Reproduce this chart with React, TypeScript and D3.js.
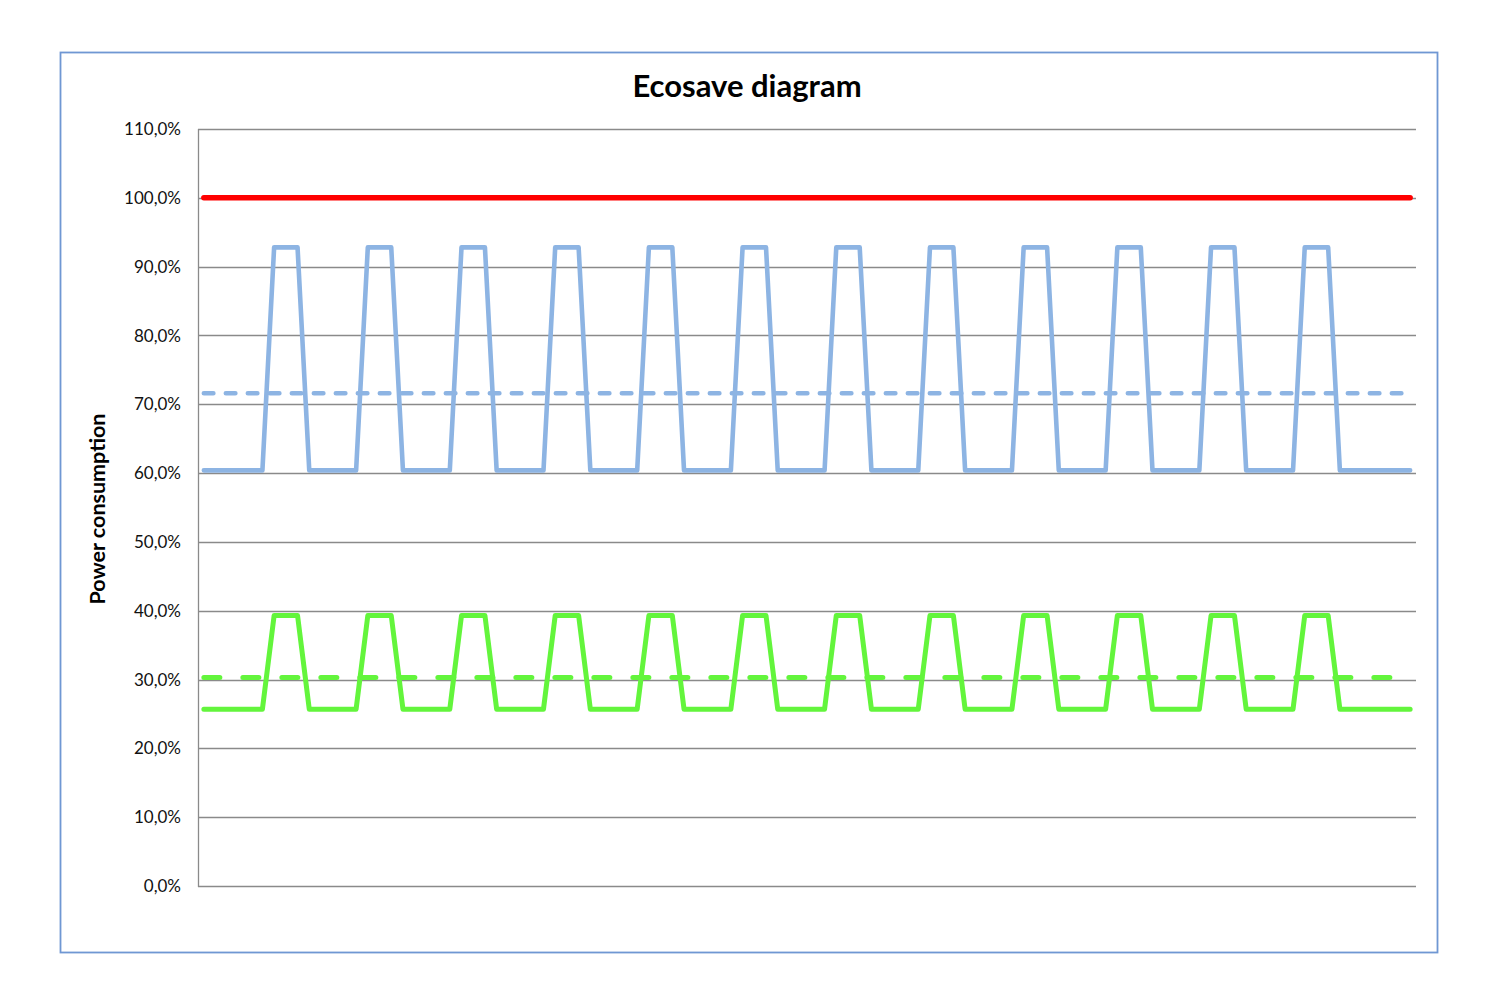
import React from "react";
import * as d3 from "d3";

// Power consumption per time slot, in percent of full load
const standardMode = [
  60.4, 60.4, 60.4, 60.4, 60.4, 60.4,
  92.8, 92.8, 92.8, 60.4, 60.4, 60.4, 60.4, 60.4,
  92.8, 92.8, 92.8, 60.4, 60.4, 60.4, 60.4, 60.4,
  92.8, 92.8, 92.8, 60.4, 60.4, 60.4, 60.4, 60.4,
  92.8, 92.8, 92.8, 60.4, 60.4, 60.4, 60.4, 60.4,
  92.8, 92.8, 92.8, 60.4, 60.4, 60.4, 60.4, 60.4,
  92.8, 92.8, 92.8, 60.4, 60.4, 60.4, 60.4, 60.4,
  92.8, 92.8, 92.8, 60.4, 60.4, 60.4, 60.4, 60.4,
  92.8, 92.8, 92.8, 60.4, 60.4, 60.4, 60.4, 60.4,
  92.8, 92.8, 92.8, 60.4, 60.4, 60.4, 60.4, 60.4,
  92.8, 92.8, 92.8, 60.4, 60.4, 60.4, 60.4, 60.4,
  92.8, 92.8, 92.8, 60.4, 60.4, 60.4, 60.4, 60.4,
  92.8, 92.8, 92.8, 60.4, 60.4, 60.4, 60.4, 60.4, 60.4, 60.4,
];

const ecosaveMode = [
  25.7, 25.7, 25.7, 25.7, 25.7, 25.7,
  39.3, 39.3, 39.3, 25.7, 25.7, 25.7, 25.7, 25.7,
  39.3, 39.3, 39.3, 25.7, 25.7, 25.7, 25.7, 25.7,
  39.3, 39.3, 39.3, 25.7, 25.7, 25.7, 25.7, 25.7,
  39.3, 39.3, 39.3, 25.7, 25.7, 25.7, 25.7, 25.7,
  39.3, 39.3, 39.3, 25.7, 25.7, 25.7, 25.7, 25.7,
  39.3, 39.3, 39.3, 25.7, 25.7, 25.7, 25.7, 25.7,
  39.3, 39.3, 39.3, 25.7, 25.7, 25.7, 25.7, 25.7,
  39.3, 39.3, 39.3, 25.7, 25.7, 25.7, 25.7, 25.7,
  39.3, 39.3, 39.3, 25.7, 25.7, 25.7, 25.7, 25.7,
  39.3, 39.3, 39.3, 25.7, 25.7, 25.7, 25.7, 25.7,
  39.3, 39.3, 39.3, 25.7, 25.7, 25.7, 25.7, 25.7,
  39.3, 39.3, 39.3, 25.7, 25.7, 25.7, 25.7, 25.7, 25.7, 25.7,
];

// Constant levels drawn across all time slots
const fullLoad = 100;
const standardAverage = 71.6;
const ecosaveAverage = 30.3;

// Time slots (the category axis has no labels)
const slots = standardMode.map((_, i) => i);

const yTicks = [0, 10, 20, 30, 40, 50, 60, 70, 80, 90, 100, 110];

const TITLE = "Ecosave diagram";
const Y_TITLE = "Power consumption";

const fmtPct = (v: number) => v.toFixed(1).replace(".", ",") + "%";

export default function App() {
  const width = 1500;
  const height = 1000;
  const left = 198;
  const right = 1416;
  const top = 129;
  const bottom = 886;

  const x = d3
    .scalePoint<number>()
    .domain(slots)
    .range([left, right])
    .padding(0.5);
  const y = d3.scaleLinear().domain([0, 110]).range([bottom, top]);

  const seriesLine = d3
    .line<number>()
    .x((_, i) => x(slots[i]) as number)
    .y((d) => y(d));

  const first = x(slots[0]) as number;
  const last = x(slots[slots.length - 1]) as number;
  const level = (v: number) => `M${first},${y(v)}L${last},${y(v)}`;

  const font = "Lato, 'Open Sans', sans-serif";

  return (
    <svg
      width={width}
      height={height}
      style={{ position: "absolute", left: 0, top: 0, background: "#fff" }}
    >
      <rect x={0} y={0} width={width} height={height} fill="#fff" />
      {/* chart frame */}
      <rect
        x={60.5}
        y={52.5}
        width={1377}
        height={900}
        fill="#fff"
        stroke="#6f97d3"
        strokeWidth={1.8}
      />

      <text
        x={747}
        y={97}
        textAnchor="middle"
        fontFamily={font}
        fontWeight={700}
        fontSize={31}
        fill="#000"
      >
        {TITLE}
      </text>

      {/* gridlines */}
      {yTicks.map((t) => (
        <line
          key={t}
          x1={left}
          x2={right}
          y1={Math.round(y(t)) + 0.5}
          y2={Math.round(y(t)) + 0.5}
          stroke="#8a8a8a"
          strokeWidth={1.3}
        />
      ))}
      {/* value axis */}
      <line
        x1={left + 0.5}
        x2={left + 0.5}
        y1={top}
        y2={bottom + 1}
        stroke="#8a8a8a"
        strokeWidth={1.3}
      />

      {yTicks.map((t) => (
        <text
          key={t}
          x={181}
          y={y(t)}
          dy="0.36em"
          textAnchor="end"
          fontFamily={font}
          fontSize={17}
          fill="#111"
        >
          {fmtPct(t)}
        </text>
      ))}

      <text
        transform={`translate(105,509) rotate(-90)`}
        textAnchor="middle"
        fontFamily={font}
        fontWeight={700}
        fontSize={21.5}
        fill="#000"
      >
        {Y_TITLE}
      </text>

      {/* series */}
      <path
        d={level(fullLoad)}
        fill="none"
        stroke="#ff0000"
        strokeWidth={5.5}
        strokeLinecap="round"
      />
      <path
        d={seriesLine(standardMode) as string}
        fill="none"
        stroke="#8db4e3"
        strokeWidth={4.6}
        strokeLinejoin="round"
        strokeLinecap="round"
      />
      <path
        d={level(standardAverage)}
        fill="none"
        stroke="#8db4e3"
        strokeWidth={4.6}
        strokeLinecap="round"
        strokeDasharray="9.5 12.5"
      />
      <path
        d={seriesLine(ecosaveMode) as string}
        fill="none"
        stroke="#63f53c"
        strokeWidth={5}
        strokeLinejoin="round"
        strokeLinecap="round"
      />
      <path
        d={level(ecosaveAverage)}
        fill="none"
        stroke="#63f53c"
        strokeWidth={5}
        strokeLinecap="round"
        strokeDasharray="16 23"
      />
    </svg>
  );
}
